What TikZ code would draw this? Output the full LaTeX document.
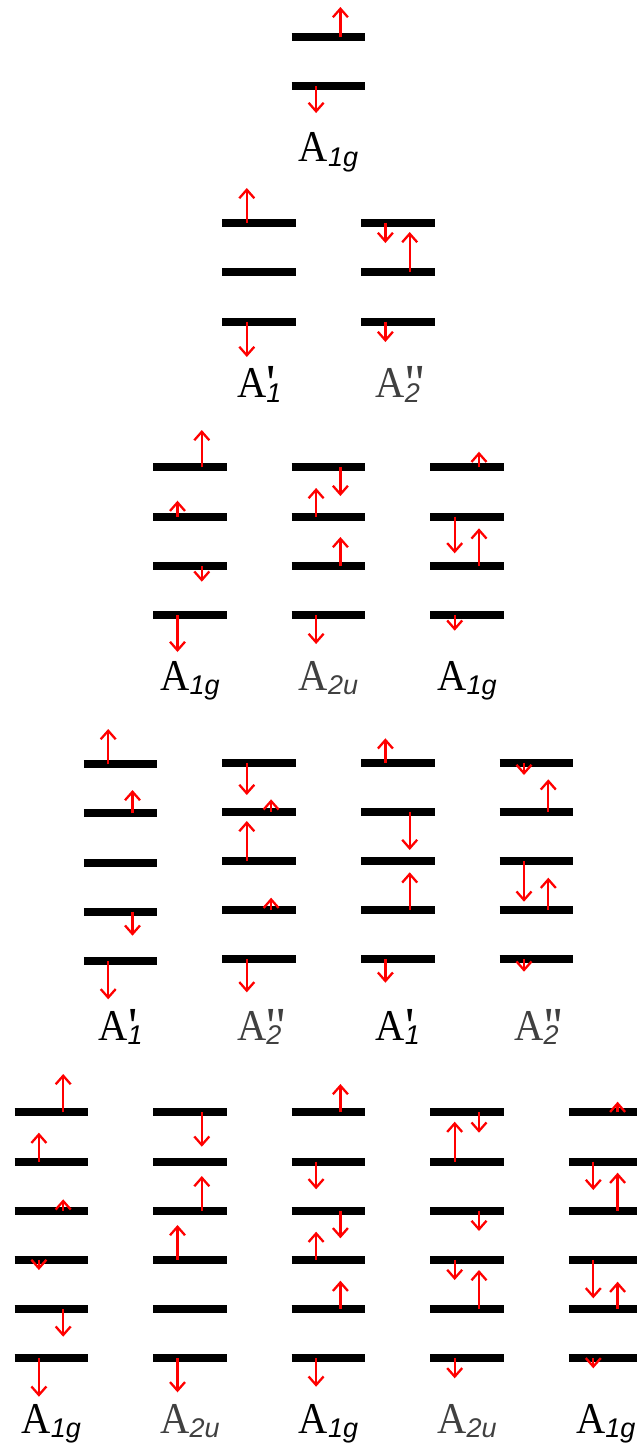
\documentclass[tikz,border=0pt]{standalone}
\usepackage{fontspec}
\newfontfamily\subfnt{Liberation Sans}
\newfontfamily\labfnt{Liberation Serif}
\usetikzlibrary{arrows.meta}
\definecolor{lblgray}{RGB}{64,64,64}
\definecolor{spinred}{RGB}{255,0,0}
\tikzset{
  lvlbar/.style={line width=8pt, line cap=butt, black},
  spin/.style={line width=2.3pt, spinred, -{Straight Barb[length=8.5pt,width=15pt,line width=2.3pt]}},
  lbl/.style={anchor=base, inner sep=0pt, font=\labfnt\fontsize{44}{44}\selectfont}
}
% level bar centred at x=#1, y=#2
\newcommand{\lvl}[2]{\draw[lvlbar] ({#1-36.8},#2) -- ({#1+36.8},#2);}
% spin arrows: left / right position, from y=#2 to tip y=#3
\newcommand{\arrL}[3]{\draw[spin] ({#1-12.4},#2) -- ({#1-12.4},#3);}
\newcommand{\arrR}[3]{\draw[spin] ({#1+11.9},#2) -- ({#1+11.9},#3);}
% label text: primes #1, subscript #2
\newcommand{\lA}[2]{\scalebox{0.92}[1]{A}\rlap{\kern0.5pt\raisebox{-3pt}{\fontsize{52}{52}\selectfont #1}}\raisebox{-4.5pt}{\subfnt\itshape\fontsize{27}{27}\selectfont #2}}
\newcommand{\pone}{\textquotesingle}
\newcommand{\ptwo}{\textquotesingle\kern0.5pt\textquotesingle}
\begin{document}
\begin{tikzpicture}[x=1pt,y=-1pt]
\useasboundingbox (0,0) rectangle (637,1452);
% ---------- Row 1 ----------
\lvl{328.5}{37}\lvl{328.5}{86}
\arrR{328.5}{37}{7}
\arrL{328.5}{86}{113}
\node[lbl] (r1a) at (328.5,161.7) {\lA{}{1g}};
% ---------- Row 2 ----------
\foreach \y in {222.5,272,321.5}{\lvl{259.2}{\y}\lvl{397.8}{\y}}
\arrL{259.2}{222.5}{188}
\arrL{259.2}{321.5}{357}
\arrL{397.8}{222.5}{243}
\arrR{397.8}{272}{232}
\arrL{397.8}{321.5}{342}
\node[lbl] (r2a) at (259.2,397.7) {\lA{\pone}{1}};
\node[lbl,text=lblgray] (r2b) at (397.8,397.7) {\lA{\ptwo}{2}};
% ---------- Row 3 ----------
\foreach \y in {467.3,516.7,566,615.3}{\lvl{189.9}{\y}\lvl{328.5}{\y}\lvl{467.1}{\y}}
\arrR{189.9}{467.3}{430}
\arrL{189.9}{516.7}{500.7}
\arrR{189.9}{566}{581.7}
\arrL{189.9}{615.3}{652}
\arrR{328.5}{467.3}{496}
\arrL{328.5}{516.7}{488}
\arrR{328.5}{566}{537}
\arrL{328.5}{615.3}{644}
\arrR{467.1}{467.3}{451.7}
\arrL{467.1}{516.7}{553.3}
\arrR{467.1}{566}{528.3}
\arrL{467.1}{615.3}{630.7}
\node[lbl] (r3a) at (189.9,690) {\lA{}{1g}};
\node[lbl,text=lblgray] (r3b) at (328.5,690) {\lA{}{2u}};
\node[lbl] (r3c) at (467.1,690) {\lA{}{1g}};
% ---------- Row 4 ----------
\foreach \y in {764.3,813.3,862.7,911.7,961}{\lvl{120.6}{\y}}
\foreach \y in {762.7,811.7,861,910,959.3}{\lvl{259.2}{\y}\lvl{397.8}{\y}\lvl{536.4}{\y}}
\arrL{120.6}{764.3}{729}
\arrR{120.6}{813.3}{790}
\arrR{120.6}{911.7}{935.7}
\arrL{120.6}{961}{999.3}
\arrL{259.2}{762.7}{795}
\arrR{259.2}{811.7}{799.3}
\arrL{259.2}{861}{821}
\arrR{259.2}{910}{897.7}
\arrL{259.2}{959.3}{992.3}
\arrL{397.8}{762.7}{738.3}
\arrR{397.8}{811.7}{850}
\arrR{397.8}{910}{872.3}
\arrL{397.8}{959.3}{982.7}
\arrL{536.4}{762.7}{775}
\arrR{536.4}{811.7}{779.3}
\arrL{536.4}{861}{901.7}
\arrR{536.4}{910}{877.7}
\arrL{536.4}{959.3}{971.7}
\node[lbl] (r4a) at (120.6,1040) {\lA{\pone}{1}};
\node[lbl,text=lblgray] (r4b) at (259.2,1040) {\lA{\ptwo}{2}};
\node[lbl] (r4c) at (397.8,1040) {\lA{\pone}{1}};
\node[lbl,text=lblgray] (r4d) at (536.4,1040) {\lA{\ptwo}{2}};
% ---------- Row 5 ----------
\foreach \y in {1112.3,1161.5,1210.7,1259.8,1309.2,1358}{\lvl{51.3}{\y}\lvl{189.9}{\y}\lvl{328.5}{\y}\lvl{467.1}{\y}\lvl{605.7}{\y}}
\arrR{51.3}{1112.3}{1074}
\arrL{51.3}{1161.5}{1132.7}
\arrR{51.3}{1210.7}{1199.3}
\arrL{51.3}{1259.8}{1270}
\arrR{51.3}{1309.2}{1336.7}
\arrL{51.3}{1358}{1396.7}
\arrR{189.9}{1112.3}{1146.7}
\arrR{189.9}{1210.7}{1176}
\arrL{189.9}{1259.8}{1225}
\arrL{189.9}{1358}{1392.3}
\arrR{328.5}{1112.3}{1084}
\arrL{328.5}{1161.5}{1189.3}
\arrR{328.5}{1210.7}{1238.3}
\arrL{328.5}{1259.8}{1231.7}
\arrR{328.5}{1309.2}{1280.7}
\arrL{328.5}{1358}{1386.7}
\arrR{467.1}{1112.3}{1132.7}
\arrL{467.1}{1161.5}{1121.7}
\arrR{467.1}{1210.7}{1231}
\arrL{467.1}{1259.8}{1280}
\arrR{467.1}{1309.2}{1270}
\arrL{467.1}{1358}{1378.3}
\arrR{605.7}{1112.3}{1101.7}
\arrL{605.7}{1161.5}{1190}
\arrR{605.7}{1210.7}{1172.7}
\arrL{605.7}{1259.8}{1298.3}
\arrR{605.7}{1309.2}{1281.7}
\arrL{605.7}{1358}{1368.3}
\node[lbl] (r5a) at (51.3,1433) {\lA{}{1g}};
\node[lbl,text=lblgray] (r5b) at (189.9,1433) {\lA{}{2u}};
\node[lbl] (r5c) at (328.5,1433) {\lA{}{1g}};
\node[lbl,text=lblgray] (r5d) at (467.1,1433) {\lA{}{2u}};
\node[lbl] (r5e) at (605.7,1433) {\lA{}{1g}};
\end{tikzpicture}
\end{document}
